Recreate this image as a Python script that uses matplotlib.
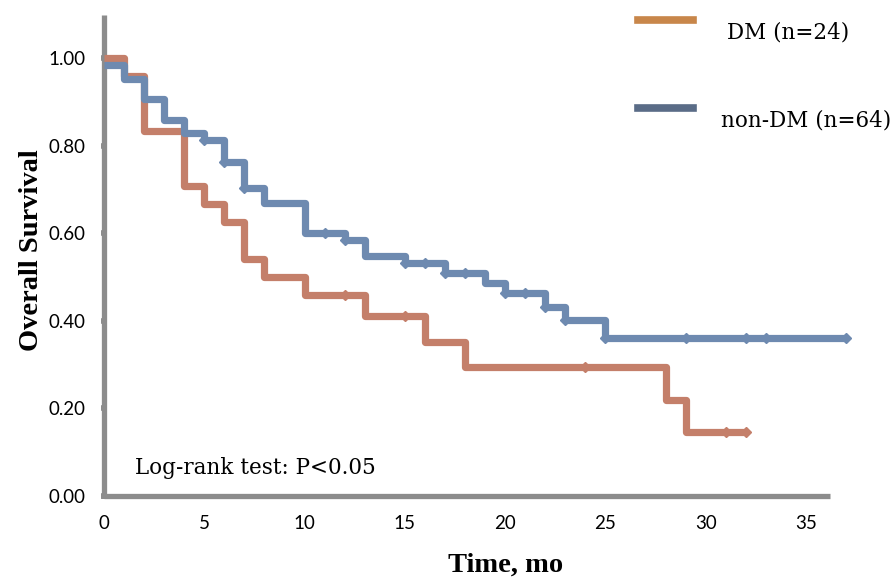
import matplotlib
matplotlib.use("Agg")
import matplotlib.pyplot as plt
import numpy as np

# Kaplan-Meier steps
dm_t = [0, 1, 2, 4, 5, 6, 7, 8, 10, 13, 16, 18, 28, 29, 32]
dm_s = [1.0, 0.958, 0.833, 0.708, 0.667, 0.625, 0.542, 0.500, 0.458, 0.410, 0.352, 0.295, 0.219, 0.146, 0.146]
dm_marks = [12, 15, 24, 31, 32]

non_t = [0, 1, 2, 3, 4, 5, 6, 7, 8, 10, 12, 13, 15, 17, 19, 20, 22, 23, 25, 37]
non_s = [0.984, 0.953, 0.906, 0.859, 0.828, 0.813, 0.763, 0.703, 0.669, 0.600, 0.584, 0.548,
         0.532, 0.509, 0.486, 0.463, 0.432, 0.402, 0.361, 0.361]
non_marks = [5, 6, 7, 11, 12, 15, 16, 17, 18, 20, 21, 22, 23, 25, 29, 32, 33, 37]

x_ticks = [0, 5, 10, 15, 20, 25, 30, 35]
y_ticks = [0.0, 0.2, 0.4, 0.6, 0.8, 1.0]

red = "#C47F6A"
blue = "#6E8AB0"
spine_col = "#8C8C8C"

fig = plt.figure(figsize=(8.94, 5.78), dpi=100)
ax = fig.add_axes([104 / 894, 1 - 496 / 578, 726 / 894, 481 / 578])


def step_value(ts, ss, t):
    idx = np.searchsorted(ts, t, side="right") - 1
    return ss[idx]


for ts, ss, marks, col in [(dm_t, dm_s, dm_marks, red), (non_t, non_s, non_marks, blue)]:
    ax.step(ts, ss, where="post", color=col, linewidth=5.2,
            solid_joinstyle="round", solid_capstyle="butt", clip_on=False, zorder=3)
    my = [step_value(ts, ss, m) for m in marks]
    ax.plot(marks, my, linestyle="none", marker="D", markersize=5.5,
            color=col, clip_on=False, zorder=4)

ax.set_xlim(0, 36.2)
ax.set_ylim(0, 1.098)
ax.set_xticks(x_ticks)
ax.set_yticks(y_ticks)
ax.set_yticklabels(["%.2f" % v for v in y_ticks])

for s in ["top", "right"]:
    ax.spines[s].set_visible(False)
for s in ["left", "bottom"]:
    ax.spines[s].set_color(spine_col)
    ax.spines[s].set_linewidth(3.8)
    ax.spines[s].set_capstyle("butt")

ax.tick_params(axis="both", color=spine_col, width=4, length=2.5, direction="out",
               labelsize=13.5, pad=11)
for lab in ax.get_xticklabels() + ax.get_yticklabels():
    lab.set_family("Lato")

fig.text(506 / 894, 1 - 565 / 578, "Time, mo", ha="center", va="center",
         family="Liberation Serif", fontweight="bold", fontsize=20.5)
fig.text(31 / 894, 1 - 250 / 578, "Overall Survival", ha="center", va="center",
         rotation=90, family="Liberation Serif", fontweight="bold", fontsize=20.5)

fig.text(135 / 894, 1 - 468 / 578, "Log-rank test: P<0.05", ha="left", va="center",
         family="DejaVu Serif", fontsize=15.5)

# legend drawn by hand
fig.add_artist(plt.Line2D([638 / 894, 693 / 894], [1 - 20 / 578, 1 - 20 / 578],
                          color="#C8864A", linewidth=5.5))
fig.add_artist(plt.Line2D([638 / 894, 693 / 894], [1 - 108 / 578, 1 - 108 / 578],
                          color="#5A6C87", linewidth=5.5))
fig.text(727 / 894, 1 - 33 / 578, "DM (n=24)", ha="left", va="center",
         family="DejaVu Serif", fontsize=15.5)
fig.text(721 / 894, 1 - 120 / 578, "non-DM (n=64)", ha="left", va="center",
         family="DejaVu Serif", fontsize=15.5)

fig.savefig("out.png", dpi=100)
